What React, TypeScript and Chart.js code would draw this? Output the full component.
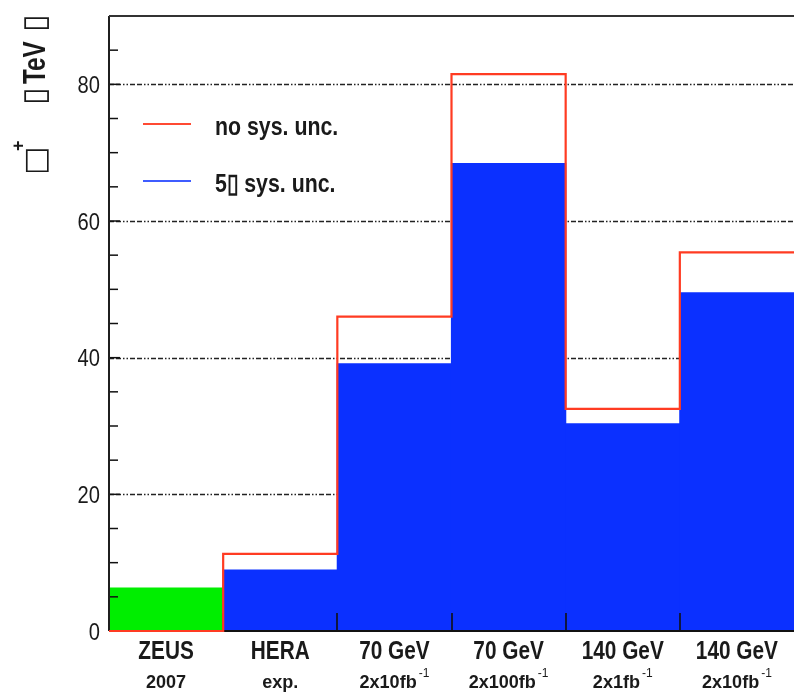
import React, { useEffect, useRef } from "react";
import { Chart, registerables } from "chart.js";

Chart.register(...registerables);

// ---- data ----
const categories = ["ZEUS", "HERA", "70 GeV", "70 GeV", "140 GeV", "140 GeV"];
const subLabels = ["2007", "exp.", "2x10fb", "2x100fb", "2x1fb", "2x10fb"];
const subSuperscripts = ["", "", "-1", "-1", "-1", "-1"];
const zeusLimit = [6.3, 0, 0, 0, 0, 0];
const noSysUnc = [0, 11.3, 46.0, 81.5, 32.5, 55.4];
const sysUnc5 = [0, 8.9, 39.1, 68.4, 30.3, 49.5];
const yTickValues = [0, 20, 40, 60, 80];
const legendLabels = ["no sys. unc.", "5\u25AF sys. unc."];

const RED = "#ff3b22";
const BLUE = "#0b30ff";
const GREEN = "#00ee00";
const INK = "#1a1a1a";
const SANS = "'Liberation Sans', Arial, sans-serif";
const BOX_FONT = "'DejaVu Sans', sans-serif";
const NARROW_X = 0.8;

function narrowText(
  ctx: CanvasRenderingContext2D,
  text: string,
  x: number,
  y: number,
  font: string,
  align: "left" | "center" | "right",
  sx: number = NARROW_X
) {
  ctx.save();
  ctx.font = font;
  ctx.textBaseline = "alphabetic";
  ctx.textAlign = "left";
  const w = ctx.measureText(text).width * sx;
  let start = x;
  if (align === "center") start = x - w / 2;
  if (align === "right") start = x - w;
  ctx.translate(start, y);
  ctx.scale(sx, 1);
  ctx.fillText(text, 0, 0);
  ctx.restore();
  return w;
}

const decorPlugin = {
  id: "decor",
  beforeDatasetsDraw(chart: any) {
    const { ctx, chartArea } = chart;
    const y = chart.scales.y;
    ctx.save();
    ctx.strokeStyle = "#222";
    ctx.lineWidth = 1.5;
    ctx.setLineDash([5, 2, 5, 2, 1.5, 2, 1.5, 2]);
    yTickValues.forEach((v) => {
      if (v === 0) return;
      const py = Math.round(y.getPixelForValue(v)) + 0.5;
      ctx.beginPath();
      ctx.moveTo(chartArea.left, py);
      ctx.lineTo(chartArea.right, py);
      ctx.stroke();
    });
    ctx.restore();
  },
  afterDatasetDraw(chart: any, args: any) {
    if (args.index !== 1) return;
    const { ctx, chartArea } = chart;
    const x = chart.scales.x;
    const y = chart.scales.y;
    ctx.save();
    ctx.setLineDash([]);
    ctx.strokeStyle = "#111";
    ctx.lineWidth = 1.5;
    for (let v = 0; v <= y.max; v += 5) {
      const py = y.getPixelForValue(v);
      const len = v % 20 === 0 ? 11 : 9;
      ctx.beginPath();
      ctx.moveTo(chartArea.left, py);
      ctx.lineTo(chartArea.left + len, py);
      ctx.stroke();
    }
    ctx.lineWidth = 1.6;
    for (let i = 1; i < categories.length; i++) {
      const px = Math.round(x.getPixelForValue(i));
      ctx.beginPath();
      ctx.moveTo(px, chartArea.bottom);
      ctx.lineTo(px, chartArea.bottom - 18);
      ctx.stroke();
    }
    ctx.lineWidth = 2;
    ctx.strokeStyle = "#1f1f1f";
    ctx.beginPath();
    ctx.moveTo(chartArea.left, chartArea.top);
    ctx.lineTo(chartArea.left, chartArea.bottom);
    ctx.stroke();
    ctx.strokeStyle = "#333";
    ctx.beginPath();
    ctx.moveTo(chartArea.left, chartArea.top);
    ctx.lineTo(chartArea.right, chartArea.top);
    ctx.stroke();
    ctx.strokeStyle = "#111";
    ctx.beginPath();
    ctx.moveTo(chartArea.left, chartArea.bottom);
    ctx.lineTo(chartArea.right, chartArea.bottom);
    ctx.stroke();
    ctx.restore();
  },
  afterDraw(chart: any) {
    const { ctx, chartArea } = chart;
    const x = chart.scales.x;
    const y = chart.scales.y;
    ctx.save();
    ctx.fillStyle = INK;
    // y tick labels
    yTickValues.forEach((v) => {
      const py = y.getPixelForValue(v);
      narrowText(ctx, String(v), chartArea.left - 9, py + 8.5, `24px ${SANS}`, "right", 0.84);
    });
    // x category labels
    categories.forEach((cat, i) => {
      const cx = x.getPixelForValue(i + 0.5);
      narrowText(ctx, cat, cx, chartArea.bottom + 28, `bold 26px ${SANS}`, "center", 0.8);
      const main = subLabels[i];
      const sup = subSuperscripts[i];
      ctx.font = `bold 19px ${SANS}`;
      const mw = ctx.measureText(main).width * 0.95;
      ctx.font = `12px ${SANS}`;
      const sw = sup ? ctx.measureText(sup).width + 2 : 0;
      const start = cx - (mw + sw) / 2;
      narrowText(ctx, main, start, chartArea.bottom + 57, `bold 19px ${SANS}`, "left", 0.95);
      if (sup) {
        ctx.font = `12px ${SANS}`;
        ctx.textAlign = "left";
        ctx.fillText(sup, start + mw + 2, chartArea.bottom + 46);
      }
    });
    // legend
    const lx0 = chartArea.left + 34;
    const lx1 = chartArea.left + 82;
    const legendColors = ["#ff4a33", "#3f5cff"];
    const legendY = [124, 181];
    legendLabels.forEach((label, i) => {
      ctx.strokeStyle = legendColors[i];
      ctx.lineWidth = 2.2;
      ctx.beginPath();
      ctx.moveTo(lx0, legendY[i]);
      ctx.lineTo(lx1, legendY[i]);
      ctx.stroke();
      ctx.fillStyle = INK;
      narrowText(ctx, label, chartArea.left + 106, legendY[i] + 11, `bold 26px ${SANS}`, "left", 0.82);
    });
    // y axis title (rotated)
    ctx.translate(45, 175);
    ctx.rotate(-Math.PI / 2);
    ctx.textAlign = "left";
    ctx.textBaseline = "alphabetic";
    ctx.fillStyle = INK;
    ctx.font = `30px ${BOX_FONT}`;
    ctx.fillText("\u25A1", 0, 0);
    ctx.font = `bold 18px ${SANS}`;
    ctx.fillText("+", 24, -21);
    ctx.font = `32px ${BOX_FONT}`;
    ctx.fillText("\u25AF", 70, 0);
    narrowText(ctx, "TeV", 91, 0, `bold 31px ${SANS}`, "left", 0.78);
    ctx.font = `32px ${BOX_FONT}`;
    ctx.fillText("\u25AF", 143, 0);
    ctx.restore();
  },
};

export default function App() {
  const canvasRef = useRef<HTMLCanvasElement | null>(null);

  useEffect(() => {
    if (!canvasRef.current) return;
    const greenData = zeusLimit
      .map((v, i) => ({ x: i + 0.5, y: v }))
      .filter((p) => p.y > 0);
    const blueData = sysUnc5
      .map((v, i) => ({ x: i + 0.5, y: v }))
      .filter((p) => p.y > 0);
    const redData = noSysUnc.map((v, i) => ({ x: i, y: v }));
    redData.push({ x: noSysUnc.length, y: noSysUnc[noSysUnc.length - 1] });

    const chart = new Chart(canvasRef.current, {
      data: {
        datasets: [
          {
            type: "line",
            label: legendLabels[0],
            data: redData,
            stepped: "before",
            borderColor: RED,
            borderWidth: 2.2,
            pointRadius: 0,
            fill: false,
            clip: false,
            order: 0,
          },
          {
            type: "bar",
            label: legendLabels[1],
            data: blueData,
            backgroundColor: BLUE,
            borderWidth: 0,
            barPercentage: 1,
            categoryPercentage: 1,
            inflateAmount: 0.6,
            grouped: false,
            order: 1,
          },
          {
            type: "bar",
            label: categories[0],
            data: greenData,
            backgroundColor: GREEN,
            borderWidth: 0,
            barPercentage: 1,
            categoryPercentage: 1,
            inflateAmount: 0.5,
            grouped: false,
            order: 2,
          },
        ],
      } as any,
      options: {
        responsive: false,
        animation: false,
        events: [],
        layout: { padding: { top: 16, right: 0, left: 0, bottom: 0 } },
        plugins: {
          legend: { display: false },
          tooltip: { enabled: false },
          title: { display: false },
        },
        scales: {
          x: {
            type: "linear",
            min: 0,
            max: categories.length,
            offset: false,
            grid: { display: false },
            border: { display: false },
            ticks: { display: false, stepSize: 1 },
            afterFit: (s: any) => {
              s.height = 63;
            },
          },
          y: {
            type: "linear",
            min: 0,
            max: 90,
            grid: { display: false, drawTicks: false },
            border: { display: false },
            ticks: { display: false, stepSize: 20, includeBounds: false },
            afterFit: (s: any) => {
              s.width = 109;
            },
          },
        },
      } as any,
      plugins: [decorPlugin],
    });
    return () => chart.destroy();
  }, []);

  return (
    <div style={{ position: "fixed", left: 0, top: 0, width: 794, height: 694, background: "#fff" }}>
      <canvas ref={canvasRef} width={794} height={694} style={{ display: "block" }} />
    </div>
  );
}
